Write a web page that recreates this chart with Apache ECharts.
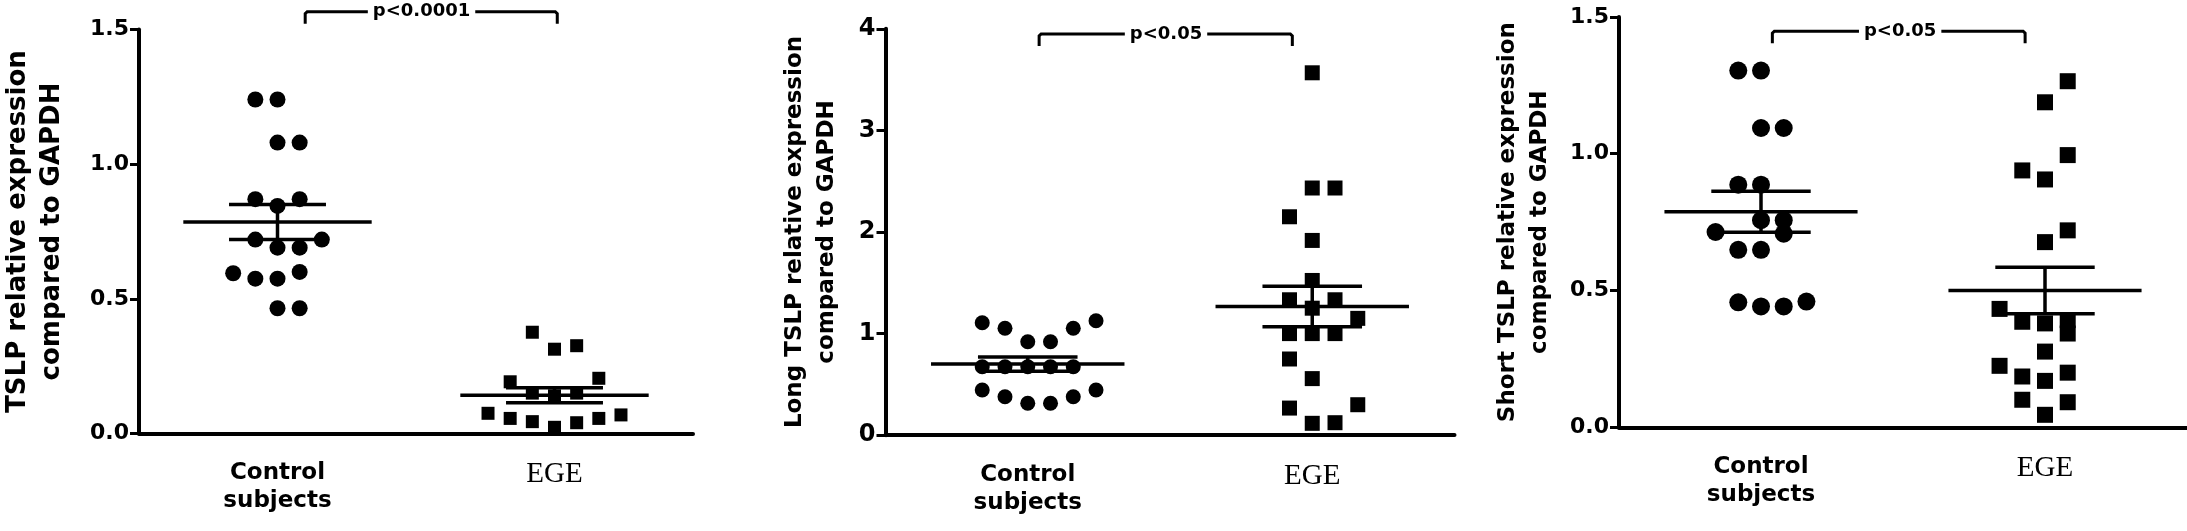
<!DOCTYPE html>
<html><head><meta charset="utf-8">
<script src="https://cdn.jsdelivr.net/npm/echarts@6/dist/echarts.min.js"></script>
<style>html,body{margin:0;padding:0;background:#fff}#c{width:2187px;height:531px}</style>
</head><body><div id="c"></div>
<script>
// ---------- data ----------
const categories = ['Control subjects', 'EGE'];
const yTitles = [
  'TSLP relative expression\ncompared to GAPDH',
  'Long TSLP relative expression\ncompared to GAPDH',
  'Short TSLP relative expression\ncompared to GAPDH'
];
const yMax = [1.5, 4, 1.5];
const yInterval = [0.5, 1, 0.5];
const yDecimals = [1, 0, 1];

// Panel 1: TSLP
const p1ControlY    = [1.24, 1.24, 1.08, 1.08, 0.87, 0.87, 0.845, 0.72, 0.72, 0.69, 0.69, 0.595, 0.60, 0.575, 0.575, 0.465, 0.465];
const p1ControlSlot = [-1, 0, 0, 1, -1, 1, 0, -1, 2, 0, 1, -2, 1, -1, 0, 0, 1];
const p1EgeY    = [0.376, 0.313, 0.326, 0.192, 0.205, 0.15, 0.14, 0.15, 0.075, 0.056, 0.044, 0.023, 0.04, 0.056, 0.069];
const p1EgeSlot = [-1, 0, 1, -2, 2, -1, 0, 1, -3, -2, -1, 0, 1, 2, 3];

// Panel 2: Long TSLP
const p2ControlY    = [1.107, 1.052, 0.92, 0.92, 1.052, 1.127, 0.674, 0.674, 0.674, 0.674, 0.674, 0.445, 0.379, 0.314, 0.314, 0.379, 0.445];
const p2ControlSlot = [-2, -1, 0, 1, 2, 3, -2, -1, 0, 1, 2, -2, -1, 0, 1, 2, 3];
const p2EgeY    = [3.567, 2.433, 2.433, 2.15, 1.917, 1.523, 1.333, 1.333, 1.25, 1.15, 1.0, 1.0, 1.0, 0.75, 0.557, 0.267, 0.30, 0.117, 0.123];
const p2EgeSlot = [0, 0, 1, -1, 0, 0, -1, 1, 0, 2, -1, 0, 1, -1, 0, -1, 2, 0, 1];

// Panel 3: Short TSLP
const p3ControlY    = [1.304, 1.304, 1.094, 1.094, 0.887, 0.887, 0.757, 0.757, 0.714, 0.708, 0.649, 0.649, 0.457, 0.442, 0.442, 0.46];
const p3ControlSlot = [-1, 0, 0, 1, -1, 0, 0, 1, -2, 1, -1, 0, -1, 0, 1, 2];
const p3EgeY    = [1.265, 1.188, 0.995, 0.939, 0.906, 0.72, 0.677, 0.433, 0.386, 0.38, 0.392, 0.343, 0.277, 0.225, 0.186, 0.17, 0.2, 0.101, 0.092, 0.046];
const p3EgeSlot = [1, 0, 1, -1, 0, 1, 0, -2, -1, 0, 1, 1, 0, -2, -1, 0, 1, -1, 1, 0];

// mean and SEM [control, EGE]
const means = [[0.785, 0.142], [0.70, 1.267], [0.788, 0.50]];
const sems  = [[0.065, 0.028], [0.07, 0.20], [0.075, 0.085]];

// significance brackets
const pTexts = ['p<0.0001', 'p<0.05', 'p<0.05'];
const bracketFrom = [1.10, 1.04, 1.04];
const bracketTo   = [2.01, 1.93, 1.93];
const bracketLevel = [1.566, 3.95, 1.448];
const pTextX = [1.52, 1.486, 1.49];

const panels = [
  {cy: p1ControlY, cs: p1ControlSlot, ey: p1EgeY, es: p1EgeSlot},
  {cy: p2ControlY, cs: p2ControlSlot, ey: p2EgeY, es: p2EgeSlot},
  {cy: p3ControlY, cs: p3ControlSlot, ey: p3EgeY, es: p3EgeSlot}
];

// ---------- layout / style ----------
const grids = [
  {left: 133, top: 29.5, width: 560, height: 404},
  {left: 885.5, top: 28.8, width: 569, height: 406.4},
  {left: 1619, top: 16.9, width: 568, height: 410.5}
];
const circleSize = [16, 15, 18];
const squareSize = [13, 15, 16];
const titleFont = [{size: 26, lh: 34, gap: 70}, {size: 23, lh: 32, gap: 42}, {size: 23, lh: 32, gap: 63}];
const tickFont = [22, 24, 22];
const SLOT = 0.08;
const SANS = 'DejaVu Sans';

const option = {
  animation: false,
  backgroundColor: '#fff',
  grid: grids,
  xAxis: [], yAxis: [], series: []
};

function meanRender(params, api) {
  const x = api.value(0), m = api.value(1), s = api.value(2);
  const hm = 0.34, hs = 0.175;
  const L = (a, b) => ({type: 'line', shape: {x1: a[0], y1: a[1], x2: b[0], y2: b[1]},
    style: {stroke: '#000', lineWidth: 3.5}});
  return {type: 'group', children: [
    L(api.coord([x - hm, m]), api.coord([x + hm, m])),
    L(api.coord([x - hs, m + s]), api.coord([x + hs, m + s])),
    L(api.coord([x - hs, m - s]), api.coord([x + hs, m - s])),
    L(api.coord([x, m + s]), api.coord([x, m - s]))
  ]};
}

panels.forEach((p, i) => {
  option.xAxis.push({
    type: 'category', gridIndex: i, data: categories, boundaryGap: true,
    axisLine: {lineStyle: {color: '#000', width: 4}},
    axisTick: {alignWithLabel: true, length: 10, lineStyle: {color: '#000', width: 3}},
    axisLabel: {
      margin: 26,
      formatter: v => v === 'EGE' ? '{e|EGE}' : '{c|Control}\n{c|subjects}',
      rich: {
        c: {fontFamily: SANS, fontWeight: 'bold', fontSize: 23, lineHeight: 28, color: '#000'},
        e: {fontFamily: 'Liberation Serif', fontSize: 29, lineHeight: 30, color: '#000'}
      }
    },
    splitLine: {show: false}
  });
  option.xAxis.push({type: 'value', gridIndex: i, min: 0.5, max: 2.5, show: false});
  option.yAxis.push({
    type: 'value', gridIndex: i, min: 0, max: yMax[i], interval: yInterval[i],
    name: yTitles[i], nameLocation: 'middle', nameGap: titleFont[i].gap,
    nameTextStyle: {fontFamily: SANS, fontWeight: 'bold', fontSize: titleFont[i].size,
      lineHeight: titleFont[i].lh, color: '#000'},
    axisLine: {show: true, lineStyle: {color: '#000', width: 4}},
    axisTick: {show: true, length: 9, lineStyle: {color: '#000', width: 3}},
    axisLabel: {margin: 10, fontFamily: SANS, fontWeight: 'bold', fontSize: tickFont[i], color: '#000',
      formatter: v => v.toFixed(yDecimals[i])},
    splitLine: {show: false}
  });
  const xi = 2 * i + 1;
  option.series.push({
    type: 'scatter', xAxisIndex: xi, yAxisIndex: i, symbol: 'circle', symbolSize: circleSize[i],
    itemStyle: {color: '#000', opacity: 1}, z: 3,
    data: p.cy.map((y, k) => [1 + p.cs[k] * SLOT, y])
  });
  option.series.push({
    type: 'scatter', xAxisIndex: xi, yAxisIndex: i, symbol: 'rect', symbolSize: squareSize[i],
    itemStyle: {color: '#000', opacity: 1}, z: 3,
    data: p.ey.map((y, k) => [2 + p.es[k] * SLOT, y])
  });
  option.series.push({
    type: 'custom', xAxisIndex: xi, yAxisIndex: i, z: 4, renderItem: meanRender,
    data: [[1, means[i][0], sems[i][0]], [2, means[i][1], sems[i][1]]]
  });
  option.series.push({
    type: 'custom', xAxisIndex: xi, yAxisIndex: i, z: 5, clip: false,
    renderItem: (params, api) => {
      const a = api.coord([api.value(0), api.value(2)]);
      const b = api.coord([api.value(1), api.value(2)]);
      const t = api.coord([api.value(3), api.value(2)]);
      const drop = 12;
      return {type: 'group', children: [
        {type: 'polyline', shape: {points: [[a[0], a[1] + drop], [a[0], a[1] + 2], [a[0] + 2, a[1]],
          [b[0] - 2, b[1]], [b[0], b[1] + 2], [b[0], b[1] + drop]]},
          style: {stroke: '#000', lineWidth: 3, fill: null}},
        {type: 'text', style: {text: pTexts[i], x: t[0], y: t[1], align: 'center', verticalAlign: 'middle',
          font: 'bold 18px "DejaVu Sans"', fill: '#000', backgroundColor: '#fff', padding: [0, 5]}}
      ]};
    },
    data: [[bracketFrom[i], bracketTo[i], bracketLevel[i], pTextX[i]]]
  });
});

const chart = echarts.init(document.getElementById('c'), null, {renderer: 'canvas'});
chart.setOption(option);
</script></body></html>
